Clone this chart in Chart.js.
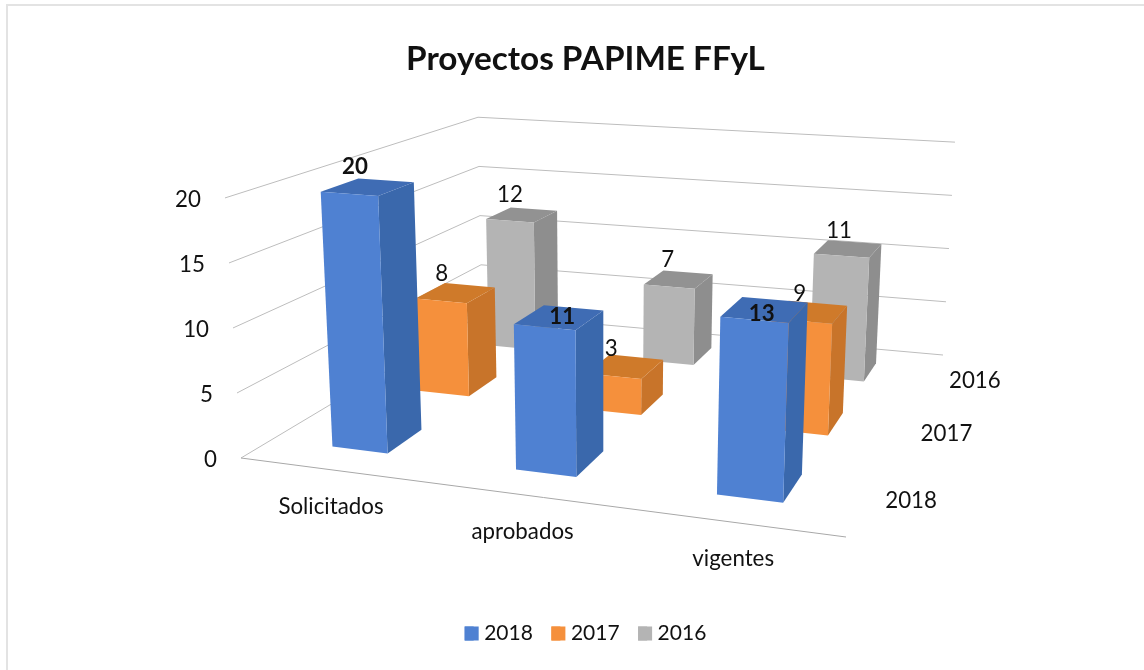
<!DOCTYPE html>
<html><head><meta charset="utf-8">
<style>html,body{margin:0;padding:0;background:#fff}canvas{display:block}</style>
<script src="https://cdn.jsdelivr.net/npm/chart.js@4/dist/chart.umd.min.js"></script>
</head><body><canvas id="c" width="1144" height="670"></canvas>
<script>
const categories = ['Solicitados', 'aprobados', 'vigentes'];
const seriesNames = ['2018', '2017', '2016'];
const values2018 = [20, 11, 13];
const values2017 = [8, 3, 9];
const values2016 = [12, 7, 11];
const valueMax = 20, valueStep = 5;

const FONT = 'Lato, Carlito, sans-serif';
const FRONT = ['#4F81D2', '#F5903C', '#B4B4B4'];
const TOP = ['#3F6CB4', '#CF7A2A', '#929292'];
const SIDE = ['#3A68AC', '#C8742A', '#8E8E8E'];

// Perspective box: floor plane plus a vertical vanishing point
const floorQuad = [[241,458],[846,537],[943,355],[482,314]];
const VP = [605,6368];
const BAR_FRAC = 0.31, DEPTH_FRAC = 0.39;

function homography(q){
  const [[x0,y0],[x1,y1],[x2,y2],[x3,y3]] = q;
  const sx=x0-x1+x2-x3, sy=y0-y1+y2-y3, dx1=x1-x2, dx2=x3-x2, dy1=y1-y2, dy2=y3-y2;
  const den=dx1*dy2-dx2*dy1, g=(sx*dy2-dx2*sy)/den, h=(dx1*sy-sx*dy1)/den;
  const a=x1-x0+g*x1, b=x3-x0+h*x3, d=y1-y0+g*y1, e=y3-y0+h*y3;
  return (u,v)=>{const k=g*u+h*v+1;return [(a*u+b*v+x0)/k,(d*u+e*v+y0)/k];};
}
const Hf = homography(floorQuad);
function P(u,v,w){
  const f=Hf(u,v);
  const c=0.00813-7.1e-7*f[0]+7.87e-5*f[1];
  return [f[0]+(f[0]-VP[0])*c*w, f[1]+(f[1]-VP[1])*c*w];
}

// label nudges relative to the centre of each bar's top face [series][category]
const labelNudge = [
  [[-13,-20],[3,-1],[-3,4]],
  [[-14,-19],[-14,-18],[-10,-18]],
  [[-12,-20],[-11,-20],[-9,-18]]
];

const scene3d = {
  id: 'scene3d',
  beforeDatasetsDraw(chart){
    const {ctx, scales:{x,y,z}} = chart;
    ctx.save();
    // outer frame: only top and left edges show
    ctx.strokeStyle='#E3E3E3'; ctx.lineWidth=2;
    ctx.beginPath();ctx.moveTo(7,670);ctx.lineTo(7,5);ctx.lineTo(1144,5);ctx.stroke();
    const wOf = v => (y.bottom - y.getPixelForValue(v))/(y.bottom-y.top);
    // gridlines
    ctx.strokeStyle='#BDBDBD'; ctx.lineWidth=1;
    y.ticks.forEach(t=>{
      const w=wOf(t.value);
      const a=P(0,0,w), b=P(0,1,w), c=P(1,1,w);
      ctx.beginPath();ctx.moveTo(...a);ctx.lineTo(...b);ctx.lineTo(...c);ctx.stroke();
    });
    ctx.strokeStyle='#A8A8A8';
    ctx.beginPath();ctx.moveTo(...P(0,0,0));ctx.lineTo(...P(1,0,0));ctx.stroke();
    // axis text
    ctx.fillStyle='#111'; ctx.font='22.3px '+FONT; ctx.textBaseline='middle';
    ctx.textAlign='right';
    y.ticks.forEach(t=>{const p=P(0,0,wOf(t.value));ctx.fillText(t.label,p[0]-24,p[1]+2);});
    ctx.textAlign='center';
    categories.forEach((c,i)=>{
      const u=(x.getPixelForValue(i)-x.left)/(x.right-x.left);
      const p=P(u,0,0);ctx.fillText(c,p[0]+0.5,p[1]+37);
    });
    seriesNames.forEach((s,i)=>{
      const v=(z.getPixelForValue(i)-z.top)/(z.bottom-z.top);
      const p=P(1,v,0);ctx.fillText(s,p[0]+44,p[1]+3);
    });
    // bars, back row first, right to left
    const labels=[];
    for(let di=chart.data.datasets.length-1;di>=0;di--){
      const els=chart.getDatasetMeta(di).data;
      const vc=(z.getPixelForValue(di)-z.top)/(z.bottom-z.top);
      const dv=DEPTH_FRAC/3/2;
      for(let i=els.length-1;i>=0;i--){
        const el=els[i];
        const u0=(el.x-el.width/2-x.left)/(x.right-x.left), u1=(el.x+el.width/2-x.left)/(x.right-x.left);
        const w=(el.base-el.y)/(y.bottom-y.top), v0=vc-dv, v1=vc+dv;
        const face=(pts,col)=>{ctx.fillStyle=col;ctx.beginPath();pts.forEach((p,k)=>k?ctx.lineTo(...p):ctx.moveTo(...p));ctx.closePath();ctx.fill();};
        face([P(u1,v0,0),P(u1,v1,0),P(u1,v1,w),P(u1,v0,w)],SIDE[di]);
        face([P(u0,v0,w),P(u1,v0,w),P(u1,v1,w),P(u0,v1,w)],TOP[di]);
        face([P(u0,v0,0),P(u1,v0,0),P(u1,v0,w),P(u0,v0,w)],FRONT[di]);
        const c=P((u0+u1)/2,vc,w), n=labelNudge[di][i];
        labels.push({t:String(chart.data.datasets[di].data[i]),x:c[0]+n[0],y:c[1]+n[1],bold:di===0});
      }
    }
    labels.forEach(l=>{
      ctx.fillStyle='#111';ctx.textAlign='center';ctx.textBaseline='middle';
      ctx.font=(l.bold?'bold ':'')+'22.3px '+FONT;ctx.fillText(l.t,l.x,l.y);
    });
    ctx.restore();
    return false;
  },
  afterDraw(chart){
    // legend swatches sit closer to their text than the default gap allows
    const {ctx, legend} = chart;
    legend.legendHitBoxes.forEach((b,i)=>{
      ctx.fillStyle=FRONT[i];
      ctx.fillRect(b.left,b.top+b.height/2-7,14,14);
    });
  }
};

new Chart(document.getElementById('c'),{
  type:'bar',
  data:{labels:categories,datasets:[
    {label:seriesNames[0],data:values2018,backgroundColor:FRONT[0]},
    {label:seriesNames[1],data:values2017,backgroundColor:FRONT[1]},
    {label:seriesNames[2],data:values2016,backgroundColor:FRONT[2]}
  ]},
  plugins:[scene3d],
  options:{
    responsive:false,animation:false,
    layout:{padding:{top:39,bottom:16,left:27,right:0}},
    datasets:{bar:{grouped:false,barPercentage:BAR_FRAC,categoryPercentage:1}},
    scales:{
      x:{display:false},
      y:{display:false,min:0,max:valueMax,ticks:{stepSize:valueStep}},
      z:{type:'category',axis:'y',labels:seriesNames,display:false,offset:true}
    },
    plugins:{
      title:{display:true,text:'Proyectos PAPIME FFyL',color:'#111',font:{family:FONT,size:33.3,weight:'bold'},padding:{top:0,bottom:10}},
      legend:{position:'bottom',labels:{boxWidth:9,boxHeight:14,padding:18.5,color:'#111',font:{family:FONT,size:21}}},
      tooltip:{enabled:false}
    }
  }
});
</script></body></html>
